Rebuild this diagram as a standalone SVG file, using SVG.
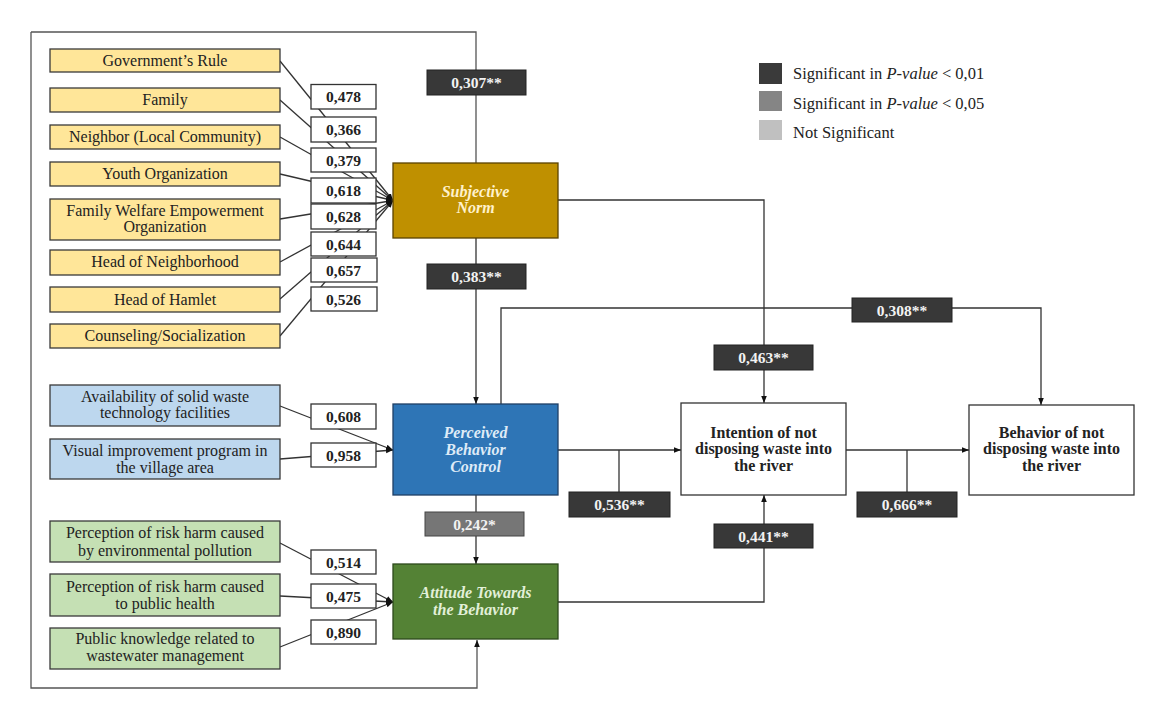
<svg xmlns="http://www.w3.org/2000/svg" width="1163" height="711" viewBox="0 0 1163 711">
<style>
.ln{fill:none;stroke:#333;stroke-width:1.3}
.fr{fill:none;stroke:#555;stroke-width:1.3}
.ind{stroke:#3a3a3a;stroke-width:1.3}
.y{fill:#FFE699}
.b{fill:#BDD7EE}
.g{fill:#C5E0B4}
.t{font-family:"Liberation Serif",serif;font-size:16px;fill:#222;text-anchor:middle}
.v{fill:#fff;stroke:#333;stroke-width:1.3}
.vt{font-family:"Liberation Serif",serif;font-size:15.5px;font-weight:bold;fill:#222;text-anchor:middle}
.lab{fill:#383838;stroke:#222;stroke-width:1}
.lab2{fill:#767676;stroke:#444;stroke-width:1}
.lt{font-family:"Liberation Serif",serif;font-size:15.5px;font-weight:bold;fill:#f2f2f2;text-anchor:middle}
.ct{font-family:"Liberation Serif",serif;font-size:16px;font-weight:bold;font-style:italic;text-anchor:middle}
.wt{font-family:"Liberation Serif",serif;font-size:16px;font-weight:bold;fill:#222;text-anchor:middle}
.lg{font-family:"Liberation Serif",serif;font-size:16.5px;fill:#222}
</style>
<defs>
<marker id="arr" viewBox="0 0 10 10" refX="10" refY="5" markerWidth="7" markerHeight="7" markerUnits="userSpaceOnUse" orient="auto"><path d="M0,1 L10,5 L0,9 z" fill="#111"/></marker>
</defs>

<g id="connectors">
<path class="fr" d="M31,32 H476 V163"/>
<path class="fr" d="M31,32 V688 H477 V640" marker-end="url(#arr)"/>
<line class="ln" x1="280" y1="61" x2="393" y2="200.5" marker-end="url(#arr)"/>
<line class="ln" x1="280" y1="100" x2="393" y2="200.5" marker-end="url(#arr)"/>
<line class="ln" x1="280" y1="137" x2="393" y2="200.5" marker-end="url(#arr)"/>
<line class="ln" x1="280" y1="174" x2="393" y2="200.5" marker-end="url(#arr)"/>
<line class="ln" x1="280" y1="219" x2="393" y2="200.5" marker-end="url(#arr)"/>
<line class="ln" x1="280" y1="262" x2="393" y2="200.5" marker-end="url(#arr)"/>
<line class="ln" x1="280" y1="299" x2="393" y2="200.5" marker-end="url(#arr)"/>
<line class="ln" x1="280" y1="336" x2="393" y2="200.5" marker-end="url(#arr)"/>
<line class="ln" x1="280" y1="406" x2="393" y2="450" marker-end="url(#arr)"/>
<line class="ln" x1="280" y1="459" x2="393" y2="450" marker-end="url(#arr)"/>
<line class="ln" x1="280" y1="543" x2="393" y2="602" marker-end="url(#arr)"/>
<line class="ln" x1="280" y1="596" x2="393" y2="602" marker-end="url(#arr)"/>
<line class="ln" x1="280" y1="647" x2="393" y2="602" marker-end="url(#arr)"/>
<path class="ln" d="M476,238 V404" marker-end="url(#arr)"/>
<path class="ln" d="M476,495 V564" marker-end="url(#arr)"/>
<path class="ln" d="M558,200 H764 V403" marker-end="url(#arr)"/>
<path class="ln" d="M501,404 V308 H1041 V405" marker-end="url(#arr)"/>
<path class="ln" d="M558,450 H681" marker-end="url(#arr)"/>
<path class="ln" d="M619,450 V492"/>
<path class="ln" d="M846,450 H969" marker-end="url(#arr)"/>
<path class="ln" d="M907,450 V492"/>
<path class="ln" d="M558,602 H764 V495" marker-end="url(#arr)"/>
</g>

<g id="ind-gov"><rect class="y ind" x="50" y="49" width="230" height="23"/><text class="t" x="165" y="66">Government’s Rule</text></g>
<g id="ind-family"><rect class="y ind" x="50" y="88" width="230" height="24"/><text class="t" x="165" y="105">Family</text></g>
<g id="ind-neighbor"><rect class="y ind" x="50" y="125" width="230" height="24"/><text class="t" x="165" y="142">Neighbor (Local Community)</text></g>
<g id="ind-youth"><rect class="y ind" x="50" y="162" width="230" height="24"/><text class="t" x="165" y="179">Youth Organization</text></g>
<g id="ind-welfare"><rect class="y ind" x="50" y="199" width="230" height="41"/><text class="t" x="165" y="216">Family Welfare Empowerment</text><text class="t" x="165" y="232">Organization</text></g>
<g id="ind-neighborhood"><rect class="y ind" x="50" y="250" width="230" height="25"/><text class="t" x="165" y="267">Head of Neighborhood</text></g>
<g id="ind-hamlet"><rect class="y ind" x="50" y="287" width="230" height="25"/><text class="t" x="165" y="304.5">Head of Hamlet</text></g>
<g id="ind-counsel"><rect class="y ind" x="50" y="324" width="230" height="24"/><text class="t" x="165" y="341">Counseling/Socialization</text></g>

<g id="ind-avail"><rect class="b ind" x="50" y="385" width="230" height="41"/><text class="t" x="165" y="402">Availability of solid waste</text><text class="t" x="165" y="418">technology facilities</text></g>
<g id="ind-visual"><rect class="b ind" x="50" y="439" width="230" height="40"/><text class="t" x="165" y="456">Visual improvement program in</text><text class="t" x="165" y="473">the village area</text></g>

<g id="ind-pollution"><rect class="g ind" x="50" y="521" width="230" height="41"/><text class="t" x="165" y="538">Perception of risk harm caused</text><text class="t" x="165" y="556">by environmental pollution</text></g>
<g id="ind-health"><rect class="g ind" x="50" y="574" width="230" height="42"/><text class="t" x="165" y="592">Perception of risk harm caused</text><text class="t" x="165" y="609">to public health</text></g>
<g id="ind-knowledge"><rect class="g ind" x="50" y="628" width="230" height="41"/><text class="t" x="165" y="644">Public knowledge related to</text><text class="t" x="165" y="661">wastewater management</text></g>

<g id="w478"><rect class="v" x="311" y="84.5" width="65" height="24.5"/><text class="vt" x="343.5" y="102">0,478</text></g>
<g id="w366"><rect class="v" x="311" y="117" width="65" height="25"/><text class="vt" x="343.5" y="135">0,366</text></g>
<g id="w379"><rect class="v" x="311" y="148" width="65" height="24"/><text class="vt" x="343.5" y="165.5">0,379</text></g>
<g id="w618"><rect class="v" x="311" y="178" width="65" height="25"/><text class="vt" x="343.5" y="196">0,618</text></g>
<g id="w628"><rect class="v" x="311" y="204" width="65" height="25"/><text class="vt" x="343.5" y="222">0,628</text></g>
<g id="w644"><rect class="v" x="311" y="232" width="65" height="24"/><text class="vt" x="343.5" y="249.5">0,644</text></g>
<g id="w657"><rect class="v" x="311" y="258" width="66" height="24"/><text class="vt" x="343.5" y="275.5">0,657</text></g>
<g id="w526"><rect class="v" x="311" y="287" width="66" height="24"/><text class="vt" x="343.5" y="304.5">0,526</text></g>
<g id="w608"><rect class="v" x="311" y="404" width="65" height="25"/><text class="vt" x="343.5" y="422">0,608</text></g>
<g id="w958"><rect class="v" x="311" y="443" width="65" height="24"/><text class="vt" x="343.5" y="460.5">0,958</text></g>
<g id="w514"><rect class="v" x="311" y="550" width="65" height="24"/><text class="vt" x="343.5" y="567.5">0,514</text></g>
<g id="w475"><rect class="v" x="311" y="584" width="65" height="24"/><text class="vt" x="343.5" y="601.5">0,475</text></g>
<g id="w890"><rect class="v" x="311" y="620" width="65" height="24"/><text class="vt" x="343.5" y="637.5">0,890</text></g>

<g id="subjective-norm"><rect x="393" y="163" width="165" height="75" fill="#BF9000" stroke="#5a4300" stroke-width="1.3"/><text class="ct" fill="#FFF2CC" x="475.5" y="197">Subjective</text><text class="ct" fill="#FFF2CC" x="475.5" y="213">Norm</text></g>
<g id="pbc"><rect x="393" y="404" width="165" height="91" fill="#2E75B6" stroke="#1f3f66" stroke-width="1.3"/><text class="ct" fill="#DEEBF7" x="475.5" y="438">Perceived</text><text class="ct" fill="#DEEBF7" x="475.5" y="455">Behavior</text><text class="ct" fill="#DEEBF7" x="475.5" y="472">Control</text></g>
<g id="attitude"><rect x="393" y="564" width="165" height="75" fill="#548235" stroke="#2d4a1c" stroke-width="1.3"/><text class="ct" fill="#E2F0D9" x="475.5" y="598">Attitude Towards</text><text class="ct" fill="#E2F0D9" x="475.5" y="615">the Behavior</text></g>
<g id="intention"><rect x="681" y="403" width="165" height="92" fill="#fff" stroke="#333" stroke-width="1.3"/><text class="wt" x="763.5" y="438">Intention of not</text><text class="wt" x="763.5" y="454">disposing waste into</text><text class="wt" x="763.5" y="471">the river</text></g>
<g id="behavior"><rect x="969" y="405" width="165" height="90" fill="#fff" stroke="#333" stroke-width="1.3"/><text class="wt" x="1051.5" y="438">Behavior of not</text><text class="wt" x="1051.5" y="454">disposing waste into</text><text class="wt" x="1051.5" y="471">the river</text></g>

<g id="c307"><rect class="lab" x="427" y="70" width="99" height="25"/><text class="lt" x="476.5" y="88">0,307**</text></g>
<g id="c383"><rect class="lab" x="427" y="264" width="99" height="25"/><text class="lt" x="476.5" y="282">0,383**</text></g>
<g id="c242"><rect class="lab2" x="425" y="512" width="99" height="24"/><text class="lt" x="474.5" y="529.5">0,242*</text></g>
<g id="c308"><rect class="lab" x="852" y="298" width="100" height="24"/><text class="lt" x="902" y="315.5">0,308**</text></g>
<g id="c463"><rect class="lab" x="714" y="345" width="99" height="25"/><text class="lt" x="763.5" y="363">0,463**</text></g>
<g id="c536"><rect class="lab" x="569" y="492" width="101" height="25"/><text class="lt" x="619.5" y="510">0,536**</text></g>
<g id="c666"><rect class="lab" x="857" y="492" width="100" height="25"/><text class="lt" x="907" y="510">0,666**</text></g>
<g id="c441"><rect class="lab" x="714" y="524" width="99" height="24"/><text class="lt" x="763.5" y="541.5">0,441**</text></g>

<g id="legend">
<rect x="759" y="63" width="23" height="21" fill="#3a3a3a"/>
<rect x="759" y="91" width="23" height="20" fill="#858585"/>
<rect x="759" y="120" width="23" height="20" fill="#c0c0c0"/>
<text class="lg" x="793" y="78.5">Significant in <tspan font-style="italic">P-value</tspan> &lt; 0,01</text>
<text class="lg" x="793" y="108.5">Significant in <tspan font-style="italic">P-value</tspan> &lt; 0,05</text>
<text class="lg" x="793" y="138">Not Significant</text>
</g>
</svg>
